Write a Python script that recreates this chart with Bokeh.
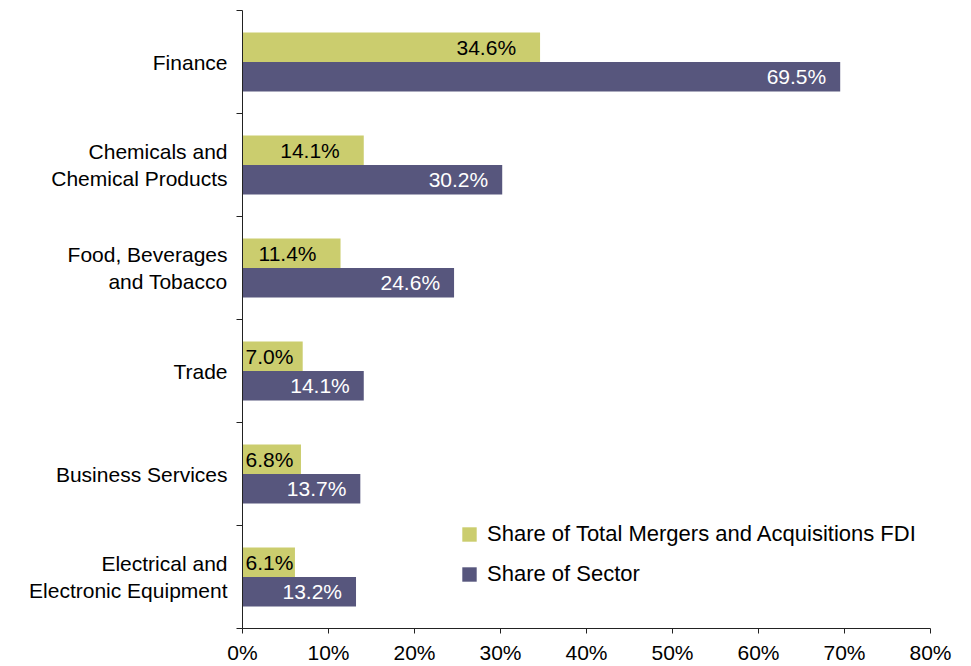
from bokeh.plotting import figure
from bokeh.models import (ColumnDataSource, Range1d, FixedTicker, PrintfTickFormatter,
                          Legend, LegendItem)
from bokeh.embed import file_html
from bokeh.resources import INLINE
from bokeh.core.properties import value

# ---- data (bottom to top) ----
categories = ["Electrical and\nElectronic Equipment", "Business Services", "Trade",
              "Food, Beverages\nand Tobacco", "Chemicals and\nChemical Products", "Finance"]
share_total_ma = [6.1, 6.8, 7.0, 11.4, 14.1, 34.6]
share_sector = [13.2, 13.7, 14.1, 24.6, 30.2, 69.5]
series_names = ["Share of Total Mergers and Acquisitions FDI", "Share of Sector"]
x_ticks = [0, 10, 20, 30, 40, 50, 60, 70, 80]

GREEN = "#CBCD6E"
PURPLE = "#57567D"
FONT = "Liberation Sans"
FS = "21px"
AXIS = "#222222"

W, H = 963, 666
ML, MR, MT, MB = 242, 33, 10, 33
frame_w = W - ML - MR
px_per_unit = frame_w / (x_ticks[-1] - x_ticks[0])

n = len(categories)
centers = [i + 0.5 for i in range(n)]
bar_h = 0.285
off = 0.143

p = figure(width=W, height=H, output_backend="svg", toolbar_location=None,
           x_range=Range1d(x_ticks[0], x_ticks[-1]), y_range=Range1d(0, n),
           min_border_left=ML, min_border_right=MR, min_border_top=MT, min_border_bottom=MB)
p.outline_line_color = None
p.xgrid.visible = False
p.ygrid.visible = False
p.background_fill_color = "white"
p.border_fill_color = "white"

src_g = ColumnDataSource(dict(y=[c + off for c in centers], v=share_total_ma,
                              lab=[f"{v:.1f}%" for v in share_total_ma]))
src_p = ColumnDataSource(dict(y=[c - off for c in centers], v=share_sector,
                              lab=[f"{v:.1f}%" for v in share_sector]))

rg = p.hbar(y="y", right="v", left=0, height=bar_h, source=src_g,
            fill_color=GREEN, line_color=None)
rp = p.hbar(y="y", right="v", left=0, height=bar_h, source=src_p,
            fill_color=PURPLE, line_color=None)

# approximate text widths (Arial-like metrics, em units)
em = {".": 0.278, "%": 0.889}
def text_w(s):
    return sum(em.get(ch, 0.556) for ch in s) * 21

gx, gal, gxo = [], [], []
for v, lab in zip(share_total_ma, src_g.data["lab"]):
    if v * px_per_unit - 24 - text_w(lab) < 3:
        gx.append(0); gal.append("left"); gxo.append(3)
    else:
        gx.append(v); gal.append("right"); gxo.append(-24)
src_gl = ColumnDataSource(dict(x=gx, y=src_g.data["y"], lab=src_g.data["lab"], al=gal, xo=gxo))
p.text(x="x", y="y", text="lab", source=src_gl, text_align="al", x_offset="xo",
       text_baseline="middle", text_color="black", text_font=value(FONT),
       text_font_size=FS)
p.text(x="v", y="y", text="lab", source=src_p, text_align="right", x_offset=-14,
       text_baseline="middle", text_color="white", text_font=value(FONT),
       text_font_size=FS)

# axes
xa = p.xaxis[0]
xa.ticker = FixedTicker(ticks=x_ticks, minor_ticks=[])
xa.formatter = PrintfTickFormatter(format="%d%%")
xa.major_tick_out = 5
xa.major_tick_in = 0
xa.major_label_standoff = 7
xa.major_label_text_font = FONT
xa.major_label_text_font_size = FS
xa.major_label_text_color = "black"
xa.axis_line_color = AXIS
xa.major_tick_line_color = AXIS

ya = p.yaxis[0]
ya.ticker = FixedTicker(ticks=centers, minor_ticks=list(range(n + 1)))
ya.major_label_overrides = {c: cat for c, cat in zip(centers, categories)}
ya.major_tick_out = 0
ya.major_tick_in = 0
ya.minor_tick_out = 6
ya.minor_tick_in = 0
ya.major_label_standoff = 9
ya.major_label_text_font = FONT
ya.major_label_text_font_size = FS
ya.major_label_text_color = "black"
ya.major_label_text_align = "right"
ya.axis_line_color = AXIS
ya.minor_tick_line_color = AXIS

legend = Legend(items=[LegendItem(label=series_names[0], renderers=[rg]),
                       LegendItem(label=series_names[1], renderers=[rp])],
                location=(218, 41), orientation="vertical",
                glyph_width=18, glyph_height=18, label_height=14,
                label_standoff=9, spacing=14, padding=0, margin=0,
                border_line_color=None, background_fill_alpha=0,
                label_text_font=FONT, label_text_font_size="22px",
                label_text_color="black")
p.add_layout(legend)

open("out.html", "w").write(file_html(p, INLINE))
